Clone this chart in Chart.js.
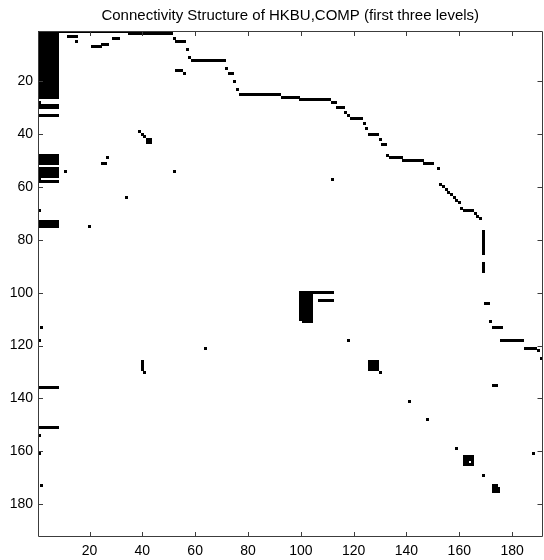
<!DOCTYPE html>
<html>
<head>
<meta charset="utf-8">
<script src="https://cdn.jsdelivr.net/npm/chart.js@4/dist/chart.umd.min.js"></script>
<style>
  html, body { margin: 0; padding: 0; background: #fff; }
  #wrap { width: 544px; height: 560px; }
</style>
</head>
<body>
<div id="wrap"><canvas id="c" width="544" height="560"></canvas></div>
<script>
// Non-zero blocks of the connectivity matrix (row range x column range)
const rowFrom = [1, 1, 2, 28, 29, 33, 48, 53, 57, 58, 69, 73, 113, 118, 136, 151, 154, 161, 173,
  3, 5, 7, 6, 4, 4, 5, 8, 11, 12, 16, 17, 15, 17, 20, 23, 25, 26, 27, 28, 30, 32, 33, 34, 36, 38, 40, 42, 44, 48, 49, 50, 51, 53,
  59, 60, 61, 62, 63, 64, 65, 66, 68, 69, 70, 71, 72, 77, 89, 104, 111, 113, 118, 121, 122, 125,
  39, 40, 41, 42, 49, 51, 54, 54, 57, 64, 75,
  100, 100, 111, 103, 118, 121, 126, 130, 126, 130, 135, 141, 148, 159, 161,
  162, 163, 164, 164, 165, 169, 173, 174];
const rowTo = [26, 1, 2, 28, 30, 33, 51, 56, 57, 58, 69, 75, 113, 118, 136, 151, 154, 161, 173,
  3, 5, 7, 6, 4, 4, 5, 8, 11, 12, 16, 17, 15, 17, 20, 23, 25, 26, 27, 28, 30, 32, 33, 34, 36, 38, 40, 42, 44, 48, 49, 50, 51, 53,
  59, 60, 61, 62, 63, 64, 65, 66, 68, 69, 70, 71, 72, 85, 92, 104, 111, 113, 118, 121, 122, 125,
  39, 40, 41, 43, 49, 51, 54, 54, 57, 64, 75,
  110, 100, 111, 103, 118, 121, 129, 130, 129, 130, 135, 141, 148, 159, 161,
  163, 163, 164, 164, 165, 169, 173, 175];
const colFrom = [1, 9, 35, 1, 1, 1, 1, 1, 1, 1, 1, 1, 2, 1, 1, 1, 1, 1, 2,
  12, 15, 21, 25, 29, 52, 53, 57, 58, 59, 53, 56, 72, 73, 75, 76, 77, 93, 100, 112, 114, 117, 118, 119, 124, 125, 126, 130, 131, 133, 134, 139, 147, 152,
  153, 154, 155, 156, 157, 158, 159, 160, 161, 162, 166, 167, 168, 169, 169, 170, 172, 173, 176, 185, 190, 191,
  39, 40, 41, 42, 27, 25, 11, 52, 112, 34, 20,
  100, 105, 101, 107, 118, 64, 40, 41, 126, 130, 173, 141, 148, 159, 188,
  162, 162, 162, 165, 162, 169, 173, 173];
const colTo = [8, 34, 51, 1, 8, 8, 8, 8, 1, 8, 1, 8, 2, 1, 8, 8, 1, 1, 2,
  15, 15, 24, 27, 31, 52, 56, 57, 58, 71, 55, 56, 72, 74, 75, 76, 92, 99, 111, 113, 116, 117, 118, 123, 124, 125, 129, 130, 132, 133, 138, 146, 150, 152,
  153, 154, 155, 156, 157, 158, 159, 160, 161, 165, 166, 167, 168, 169, 169, 171, 172, 176, 184, 189, 190, 191,
  39, 40, 41, 43, 27, 26, 11, 52, 112, 34, 20,
  104, 112, 104, 112, 118, 64, 40, 41, 129, 130, 174, 141, 148, 159, 188,
  165, 165, 163, 165, 165, 169, 174, 175];

const xTickValues = [20, 40, 60, 80, 100, 120, 140, 160, 180];
const yTickValues = [20, 40, 60, 80, 100, 120, 140, 160, 180];
const titleText = 'Connectivity Structure of HKBU,COMP (first three levels)';

const points = [];
for (let i = 0; i < rowFrom.length; i++) {
  for (let r = rowFrom[i]; r <= rowTo[i]; r++) {
    for (let c = colFrom[i]; c <= colTo[i]; c++) {
      points.push({ x: c, y: r });
    }
  }
}

// crisp square marker (drawn without smoothing so adjacent cells merge)
const marker = document.createElement('canvas');
marker.width = 3; marker.height = 3;
const mctx = marker.getContext('2d');
mctx.fillStyle = '#000';
mctx.fillRect(0, 0, 3, 3);

const FONT = { family: 'Liberation Sans, Arial, sans-serif', size: 14 };

const crispPlugin = {
  id: 'crisp',
  beforeDatasetsDraw(chart) { chart.ctx.imageSmoothingEnabled = false; }
};

const framePlugin = {
  id: 'frame',
  afterDatasetsDraw(chart) {
    const { ctx, chartArea: a, scales } = chart;
    ctx.save();
    ctx.strokeStyle = '#3c3c3c';
    ctx.lineWidth = 1;
    ctx.beginPath();
    ctx.rect(Math.round(a.left) + 0.5, Math.round(a.top) + 0.5,
             Math.round(a.right - a.left) - 1, Math.round(a.bottom - a.top) - 1);
    ctx.stroke();
    const tl = 5;
    ctx.beginPath();
    xTickValues.forEach(v => {
      const px = Math.round(scales.x.getPixelForValue(v)) + 0.5;
      ctx.moveTo(px, a.bottom); ctx.lineTo(px, a.bottom - tl);
      ctx.moveTo(px, a.top); ctx.lineTo(px, a.top + tl);
    });
    yTickValues.forEach(v => {
      const py = Math.round(scales.y.getPixelForValue(v)) + 0.5;
      ctx.moveTo(a.left, py); ctx.lineTo(a.left + tl, py);
      ctx.moveTo(a.right, py); ctx.lineTo(a.right - tl, py);
    });
    ctx.stroke();
    ctx.restore();
  }
};

new Chart(document.getElementById('c'), {
  type: 'scatter',
  data: {
    datasets: [{
      data: points,
      pointStyle: marker,
      pointRadius: 1.5,
      pointHoverRadius: 1.5,
      pointBorderWidth: 0,
      backgroundColor: '#000',
      borderColor: '#000'
    }]
  },
  options: {
    responsive: false,
    animation: false,
    events: [],
    layout: { padding: { left: 0, right: 1, top: 0, bottom: 0 } },
    plugins: {
      legend: { display: false },
      tooltip: { enabled: false },
      title: {
        display: true,
        text: titleText,
        fullSize: false,
        color: '#000',
        font: { family: FONT.family, size: 15, weight: 'normal', lineHeight: 1 },
        padding: { top: 8, bottom: 8 }
      }
    },
    scales: {
      x: {
        type: 'linear',
        position: 'bottom',
        min: 0.5,
        max: 191.5,
        afterBuildTicks: s => { s.ticks = xTickValues.map(v => ({ value: v })); },
        afterFit: s => { s.height = 23; },
        grid: { display: false, drawTicks: false },
        border: { display: false },
        ticks: { color: '#000', font: FONT, padding: 6, maxRotation: 0, autoSkip: false }
      },
      y: {
        type: 'linear',
        reverse: true,
        min: 1,
        max: 192.4,
        afterBuildTicks: s => { s.ticks = yTickValues.map(v => ({ value: v })); },
        afterFit: s => { s.width = 38; },
        grid: { display: false, drawTicks: false },
        border: { display: false },
        ticks: { color: '#000', font: FONT, padding: 5, autoSkip: false }
      }
    }
  },
  plugins: [crispPlugin, framePlugin]
});
</script>
</body>
</html>
